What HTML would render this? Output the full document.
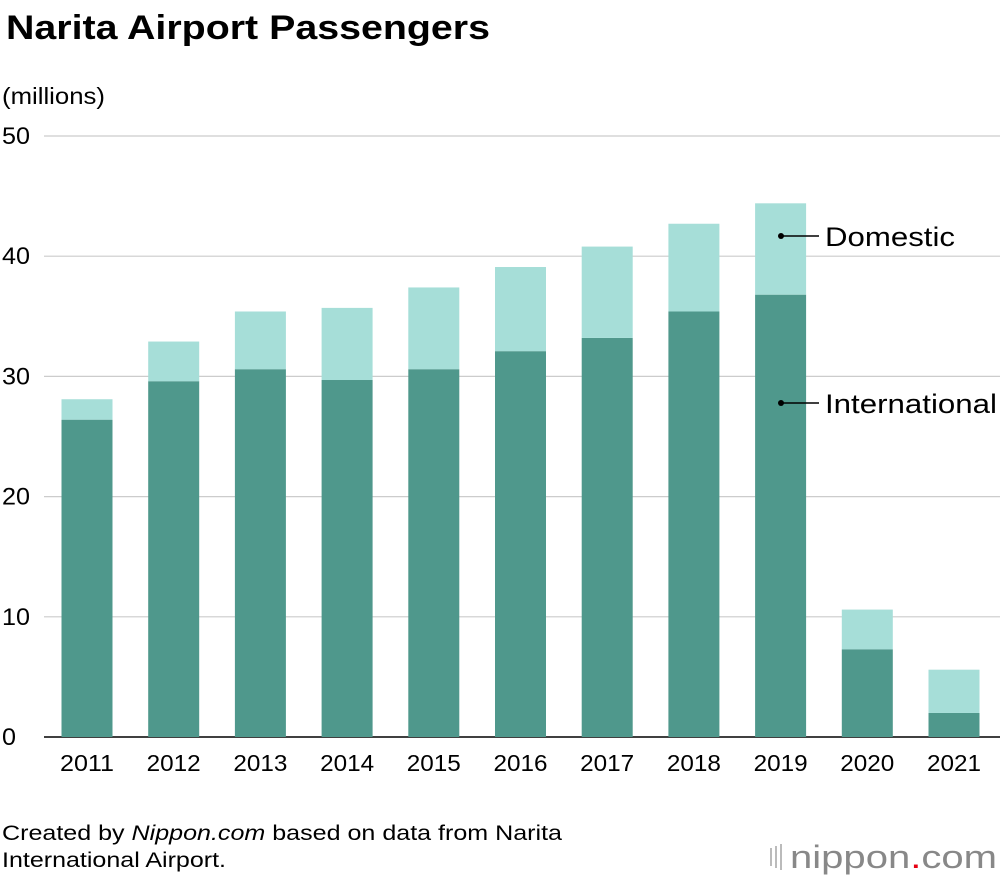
<!DOCTYPE html>
<html><head><meta charset="utf-8"><style>
body{margin:0;background:#fff;font-family:"Liberation Sans",sans-serif;}
#wrap{position:relative;width:1000px;height:880px;overflow:hidden;}
</style></head><body>
<div id="wrap">
<svg id="chart" width="1000" height="880">
<text x="6" y="39" font-size="34" font-weight="bold" fill="#000" textLength="484" lengthAdjust="spacingAndGlyphs">Narita Airport Passengers</text>
<text x="2" y="104" font-size="23" fill="#000" textLength="103" lengthAdjust="spacingAndGlyphs">(millions)</text>
<g id="grid"></g><g id="bars"></g><g id="xlabels"></g>
<g>
<circle cx="781" cy="236" r="3" fill="#000"/><line x1="781" y1="236" x2="819" y2="236" stroke="#000" stroke-width="1.5"/>
<text x="825" y="246" font-size="27" fill="#000" textLength="130" lengthAdjust="spacingAndGlyphs">Domestic</text></g>
<g>
<circle cx="781" cy="403" r="3" fill="#000"/><line x1="781" y1="403" x2="819" y2="403" stroke="#000" stroke-width="1.5"/>
<text x="825" y="413" font-size="27" fill="#000" textLength="172" lengthAdjust="spacingAndGlyphs">International</text></g>
<text x="2" y="840" font-size="21" fill="#000" textLength="560" lengthAdjust="spacingAndGlyphs">Created by <tspan font-style="italic">Nippon.com</tspan> based on data from Narita</text>
<text x="2" y="867" font-size="21" fill="#000" textLength="224" lengthAdjust="spacingAndGlyphs">International Airport.</text>
<g>
<rect x="770" y="848" width="2" height="18" fill="#bbb"/><rect x="775" y="846" width="2" height="22" fill="#bbb"/><rect x="780" y="844" width="2" height="26" fill="#bbb"/>
<text x="790" y="868" font-size="32" fill="#888" textLength="207" lengthAdjust="spacingAndGlyphs">nippon<tspan fill="#e60012">.</tspan>com</text></g>
</svg></div>
<script>
const years=["2011","2012","2013","2014","2015","2016","2017","2018","2019","2020","2021"];
const international=[26.4,29.6,30.6,29.7,30.6,32.1,33.2,35.4,36.8,7.3,2.0];
const domestic=[1.7,3.3,4.8,6.0,6.8,7.0,7.6,7.3,7.6,3.3,3.6];
const yTicks=[0,10,20,30,40,50];
const ns="http://www.w3.org/2000/svg";
const y0=737,pxPer=12.02,x0=87,step=86.7,bw=51;
const yS=v=>y0-v*pxPer, xS=i=>x0+i*step;
const grid=document.getElementById('grid'),bars=document.getElementById('bars'),xl=document.getElementById('xlabels');
function mk(t,a,p){const e=document.createElementNS(ns,t);for(const k in a)e.setAttribute(k,a[k]);p.appendChild(e);return e;}
yTicks.forEach(t=>{
 const l=mk('line',{x1:44,x2:1000,y1:yS(t),y2:yS(t),stroke:t===0?'#000':'#ccc','stroke-width':t===0?1.5:1.2},grid);
 
 
 const tx=mk('text',{x:2,y:yS(t)+8,'font-size':24,fill:'#000',textLength:String(t).length*14,lengthAdjust:'spacingAndGlyphs'},grid);tx.textContent=t;
 
 
});
years.forEach((yr,i)=>{
 const x=xS(i)-bw/2;
 const r1=mk('rect',{x:x,y:yS(international[i]),width:bw,height:international[i]*pxPer,fill:'#4f988c'},bars);
 
 
 const tot=international[i]+domestic[i];
 const r2=mk('rect',{x:x,y:yS(tot),width:bw,height:domestic[i]*pxPer,fill:'#a6ded8'},bars);
 
 
 const t=mk('text',{x:xS(i)-27,y:771,'font-size':23,fill:'#000',textLength:54,lengthAdjust:'spacingAndGlyphs'},xl);t.textContent=yr;
 
 
});
</script></body></html>
